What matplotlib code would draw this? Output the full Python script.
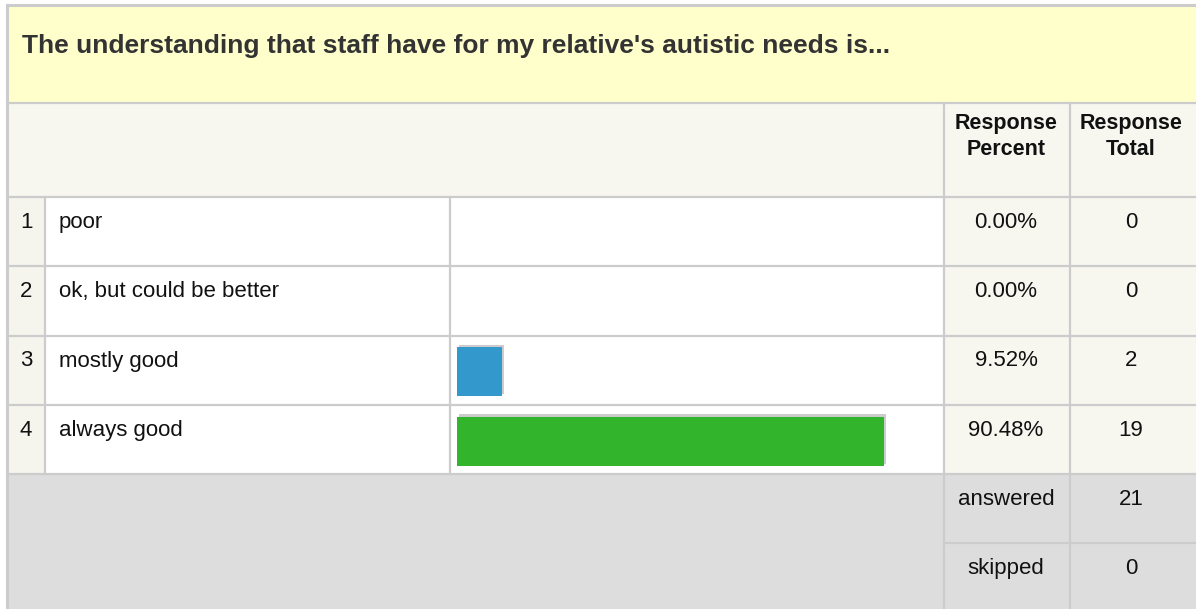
import matplotlib
matplotlib.use("Agg")
import matplotlib.pyplot as plt
from matplotlib.patches import Rectangle
import matplotlib.patheffects as pe

title = "The understanding that staff have for my relative's autistic needs is..."
numbers = ["1", "2", "3", "4"]
labels = ["poor", "ok, but could be better", "mostly good", "always good"]
percents = [0.00, 0.00, 9.52, 90.48]
totals = [0, 0, 2, 19]
bar_colors = [None, None, "#3399CC", "#32B42C"]
answered = 21
skipped = 0

plt.rcParams['font.family'] = ['Liberation Sans', 'DejaVu Sans']

W, H = 1196, 609
fig = plt.figure(figsize=(W / 100, H / 100), dpi=100)
ax = fig.add_axes([0, 0, 1, 1])
ax.set_xlim(0, W)
ax.set_ylim(H, 0)
ax.axis('off')

grid = "#CCCCCC"
L = 7
x_num, x_lab, x_bar, x_pct, x_tot = 7, 45, 450, 944, 1070
y_title, y_head, y_rows = 5, 103, 197
row_h = 69.25
y_foot = y_rows + 4 * row_h
foot_h = 69

def rect(x0, y0, x1, y1, fc):
    ax.add_patch(Rectangle((x0, y0), x1 - x0, y1 - y0, facecolor=fc, edgecolor='none', zorder=0))

# backgrounds
rect(L, y_title, W, y_head, "#FFFFCC")
rect(L, y_head, W, y_rows, "#F7F7F0")
rect(x_num, y_rows, x_lab, y_foot, "#F5F5EE")
rect(x_lab, y_rows, x_pct, y_foot, "#FFFFFF")
rect(x_pct, y_rows, W, y_foot, "#F7F7F0")
rect(L, y_foot, W, H, "#DDDDDD")

# lines
lw = 1.6
ax.plot([L, L], [y_title, H], color=grid, lw=2.2, zorder=2)
ax.plot([L, W], [y_title, y_title], color=grid, lw=2.2, zorder=2)
ax.plot([L, W], [y_head, y_head], color=grid, lw=lw, zorder=2)
for i in range(5):
    y = y_rows + i * row_h
    ax.plot([L, W], [y, y], color=grid, lw=lw, zorder=2)
ax.plot([x_pct, W], [y_foot + foot_h, y_foot + foot_h], color=grid, lw=lw, zorder=2)
ax.plot([x_lab, x_lab], [y_rows, y_foot], color=grid, lw=lw, zorder=2)
ax.plot([x_bar, x_bar], [y_rows, y_foot], color=grid, lw=lw, zorder=2)
for x in (x_pct, x_tot):
    ax.plot([x, x], [y_head, H], color=grid, lw=lw, zorder=2)

# title
ax.text(22, 53, title, fontsize=19, fontweight='bold', color="#333333", va='baseline', ha='left')

# header
cpct = 1006
ctot = 1131
hfs = 15.5
for cx, t2 in ((cpct, "Percent"), (ctot, "Total")):
    ax.text(cx, 129, "Response", fontsize=hfs, fontweight='bold', color="#111111", ha='center', va='baseline')
    ax.text(cx, 155, t2, fontsize=hfs, fontweight='bold', color="#111111", ha='center', va='baseline')

fs = 16
for i, (n, lab, p, t) in enumerate(zip(numbers, labels, percents, totals)):
    y = y_rows + i * row_h + 31
    ax.text(26, y, n, fontsize=fs, ha='center', va='baseline', color="#111111")
    ax.text(59, y, lab, fontsize=fs, ha='left', va='baseline', color="#111111")
    ax.text(cpct, y, f"{p:.2f}%", fontsize=fs, ha='center', va='baseline', color="#111111")
    ax.text(ctot, y, str(t), fontsize=fs, ha='center', va='baseline', color="#111111")

ax.text(cpct, y_foot + 31, "answered", fontsize=fs, ha='center', va='baseline', color="#111111")
ax.text(ctot, y_foot + 31, str(answered), fontsize=fs, ha='center', va='baseline', color="#111111")
ax.text(cpct, y_foot + foot_h + 31, "skipped", fontsize=fs, ha='center', va='baseline', color="#111111")
ax.text(ctot, y_foot + foot_h + 31, str(skipped), fontsize=fs, ha='center', va='baseline', color="#111111")

# bar axes
bx0, bx1 = 457, 929
bax = fig.add_axes([bx0 / W, 1 - y_foot / H, (bx1 - bx0) / W, (y_foot - y_rows) / H])
bax.set_xlim(0, 100)
bax.set_ylim(4.5, 0.5)
bax.axis('off')
bax.patch.set_alpha(0)
ypos = list(range(1, 5))
for yv, p, c in zip(ypos, percents, bar_colors):
    if p > 0:
        bax.barh(yv + 0.025, p, height=0.71, color=c, edgecolor='none',
                 path_effects=[pe.SimplePatchShadow(offset=(1.5, 1.5), shadow_rgbFace='#CCCCCC', alpha=1), pe.Normal()])

fig.savefig("out.png", dpi=100)
